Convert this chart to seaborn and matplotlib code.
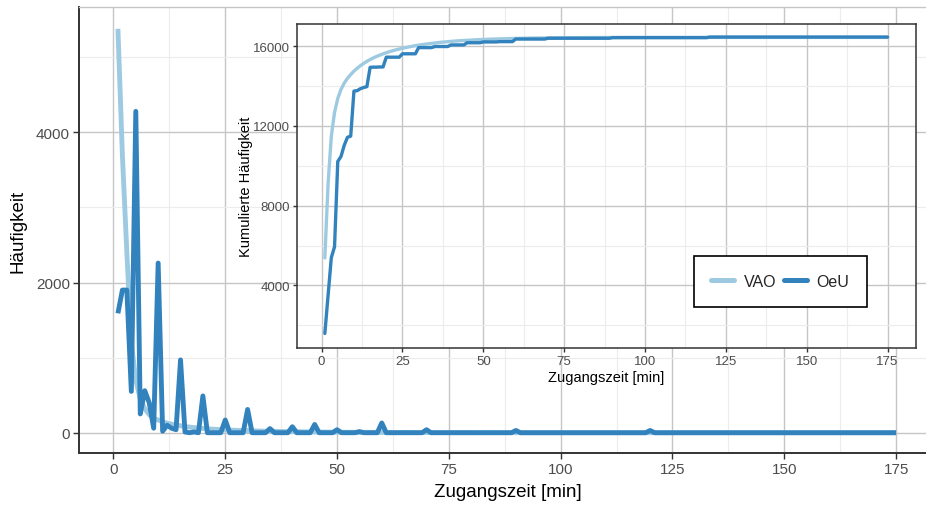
import numpy as np
import pandas as pd
import matplotlib
matplotlib.use("Agg")
import matplotlib.pyplot as plt
import seaborn as sns
from matplotlib.lines import Line2D
from matplotlib.ticker import FixedLocator

# ---------------- data ----------------
minutes = list(range(1, 176))

vao = [
    5380, 3700, 2400, 1200, 700, 450, 320, 240, 190, 170,      # 1-10
    145, 128, 114, 102, 92, 83, 75, 68, 62, 57,                # 11-20
    52, 48, 44, 41, 38, 35, 33, 31, 29, 27,                    # 21-30
    25, 23, 22, 20, 19, 18, 17, 16, 15, 14,                    # 31-40
    13, 12, 11, 10, 10, 9, 9, 8, 8, 7,                         # 41-50
    7, 6, 6, 6, 5, 5, 5, 4, 4, 4,                              # 51-60
    4, 3, 3, 3, 3, 3, 2, 2, 2, 2,                              # 61-70
    2, 2, 2, 1, 1, 1, 1, 1, 1, 1,                              # 71-80
    1, 1, 1, 1, 1, 1, 1, 1, 1, 1,                              # 81-90
    0, 0, 0, 0, 0, 0, 0, 0, 0, 0,                              # 91-100
    0, 0, 0, 0, 0, 0, 0, 0, 0, 0,                              # 101-110
    0, 0, 0, 0, 0, 0, 0, 0, 0, 0,                              # 111-120
    0, 0, 0, 0, 0, 0, 0, 0, 0, 0,                              # 121-130
    0, 0, 0, 0, 0, 0, 0, 0, 0, 0,                              # 131-140
    0, 0, 0, 0, 0, 0, 0, 0, 0, 0,                              # 141-150
    0, 0, 0, 0, 0, 0, 0, 0, 0, 0,                              # 151-160
    0, 0, 0, 0, 0, 0, 0, 0, 0, 0,                              # 161-170
    0, 0, 0, 0, 0,                                             # 171-175
]

oeu = [
    1590, 1900, 1900, 550, 4280, 250, 560, 400, 60, 2260,      # 1-10
    20, 100, 60, 40, 970, 10, 0, 10, 0, 490,                   # 11-20
    0, 0, 0, 0, 170, 0, 0, 0, 0, 310,                          # 21-30
    0, 0, 0, 0, 55, 0, 0, 0, 0, 80,                            # 31-40
    0, 0, 0, 0, 110, 0, 0, 0, 0, 40,                           # 41-50
    0, 0, 0, 0, 15, 0, 0, 0, 0, 130,                           # 51-60
    0, 0, 0, 0, 0, 0, 0, 0, 0, 40,                             # 61-70
    0, 0, 0, 0, 0, 0, 0, 0, 0, 0,                              # 71-80
    0, 0, 0, 0, 0, 0, 0, 0, 0, 30,                             # 81-90
    0, 0, 0, 0, 0, 0, 0, 0, 0, 0,                              # 91-100
    0, 0, 0, 0, 0, 0, 0, 0, 0, 0,                              # 101-110
    0, 0, 0, 0, 0, 0, 0, 0, 0, 30,                             # 111-120
    0, 0, 0, 0, 0, 0, 0, 0, 0, 0,                              # 121-130
    0, 0, 0, 0, 0, 0, 0, 0, 0, 0,                              # 131-140
    0, 0, 0, 0, 0, 0, 0, 0, 0, 0,                              # 141-150
    0, 0, 0, 0, 0, 0, 0, 0, 0, 0,                              # 151-160
    0, 0, 0, 0, 0, 0, 0, 0, 0, 0,                              # 161-170
    0, 0, 0, 0, 0,                                             # 171-175
]

series_names = ["VAO", "OeU"]
series_colors = ["#9ecae1", "#3182bd"]

x_major = [0, 25, 50, 75, 100, 125, 150, 175]
x_minor = [12.5, 37.5, 62.5, 87.5, 112.5, 137.5, 162.5, 187.5]
main_y_major = [0, 2000, 4000]
main_y_minor = [1000, 3000, 5000]
inset_y_major = [4000, 8000, 12000, 16000]
inset_y_minor = [2000, 6000, 10000, 14000]

# ---------------- frame ----------------
df = pd.DataFrame({
    "Zugangszeit": minutes + minutes,
    "Häufigkeit": vao + oeu,
    "Serie": ["VAO"] * len(vao) + ["OeU"] * len(oeu),
})
df["Kumuliert"] = df.groupby("Serie")["Häufigkeit"].cumsum()

sns.set_theme(style="white")
plt.rcParams["font.family"] = ["Liberation Sans", "DejaVu Sans"]

W, H = 926, 506
fig = plt.figure(figsize=(W / 100, H / 100), dpi=100)

# main axes
ax = fig.add_axes([79 / W, (H - 454) / H, 856 / W, 446 / H])
# inset axes
axi = fig.add_axes([296.7 / W, (H - 349) / H, 619 / W, 324.5 / H], zorder=5)


def style(a, ymaj, ymin, labelsize, ticklen):
    a.set_facecolor("white")
    a.xaxis.set_major_locator(FixedLocator(x_major))
    a.xaxis.set_minor_locator(FixedLocator(x_minor))
    a.yaxis.set_major_locator(FixedLocator(ymaj))
    a.yaxis.set_minor_locator(FixedLocator(ymin))
    a.grid(which="major", color="#c6c6c6", lw=1.0)
    a.grid(which="minor", color="#ececec", lw=0.8)
    a.set_axisbelow(True)
    a.tick_params(which="major", bottom=True, left=True, length=ticklen, width=1.0,
                  color="#333333", labelcolor="#4d4d4d", labelsize=labelsize, pad=2)
    a.tick_params(which="minor", length=0)


# ---------------- main plot ----------------
sns.lineplot(data=df, x="Zugangszeit", y="Häufigkeit", hue="Serie",
             hue_order=series_names, palette=series_colors, estimator=None,
             lw=3.5, legend=False, ax=ax, solid_joinstyle="round",
             solid_capstyle="butt")
ax.set_xlim(-7.7, 183.7)
ax.set_ylim(-270, 5670)
style(ax, main_y_major, main_y_minor, 11, 4.5)
for s in ["left", "bottom"]:
    ax.spines[s].set_color("#333333")
    ax.spines[s].set_linewidth(1.4)
for s in ["top", "right"]:
    ax.spines[s].set_color("#c6c6c6")
    ax.spines[s].set_linewidth(1.0)
ax.set_xlabel("Zugangszeit [min]", fontsize=13.5, color="black")
ax.set_ylabel("Häufigkeit", fontsize=13.5, color="black")
ax.xaxis.set_label_coords(0.5006, -0.0874)
ax.xaxis.label.set_va("center")
ax.yaxis.set_label_coords(-0.0707, 0.5)
ax.yaxis.label.set_va("center")

# ---------------- inset ----------------
sns.lineplot(data=df, x="Zugangszeit", y="Kumuliert", hue="Serie",
             hue_order=series_names, palette=series_colors, estimator=None,
             lw=2.4, legend=False, ax=axi, solid_joinstyle="round")
axi.set_xlim(-7.7, 183.7)
axi.set_ylim(860, 17140)
style(axi, inset_y_major, inset_y_minor, 9.5, 3)
for s in axi.spines.values():
    s.set_color("#333333")
    s.set_linewidth(1.1)
axi.set_xlabel("Zugangszeit [min]", fontsize=10.5, color="black")
axi.set_ylabel("Kumulierte Häufigkeit", fontsize=10.5, color="black")
axi.xaxis.set_label_coords(0.5, -0.089)
axi.xaxis.label.set_va("center")
axi.yaxis.set_label_coords(-0.082, 0.5)
axi.yaxis.label.set_va("center")

handles = [Line2D([], [], color=c, lw=3.6) for c in series_colors]
leg = axi.legend(handles, series_names, ncol=2, loc="center",
                 bbox_to_anchor=(0.781, 0.205), frameon=True, fancybox=False,
                 edgecolor="black", fontsize=11.5, handlelength=1.45,
                 handletextpad=0.6, columnspacing=0.45, borderpad=1.1)
leg.get_frame().set_linewidth(1.2)
leg.get_frame().set_alpha(1)

fig.savefig("out.png", dpi=100)
